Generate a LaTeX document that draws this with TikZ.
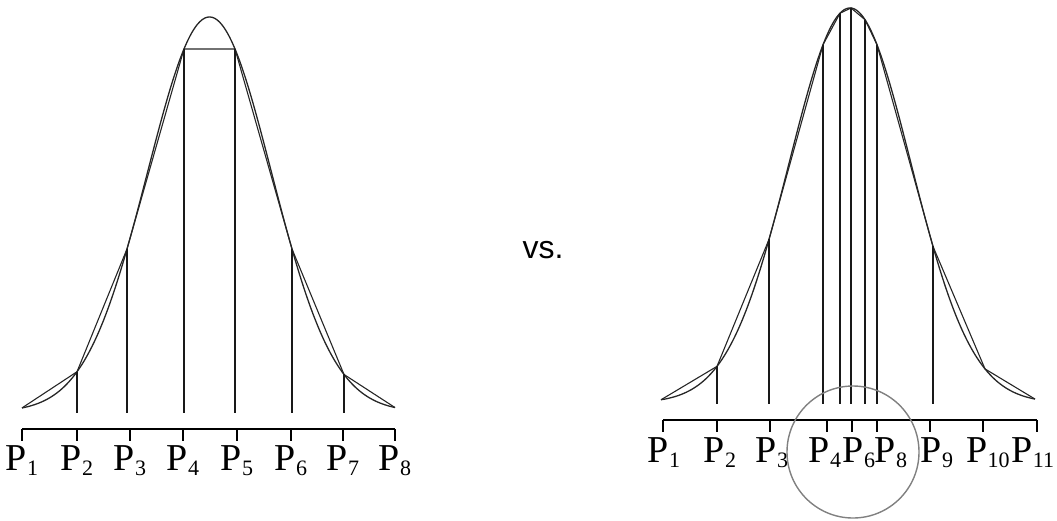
\documentclass[tikz,border=0pt]{standalone}
\usepackage{fontspec}
\setmainfont{Liberation Serif}
\newfontfamily\vsfont{Liberation Sans}
\usetikzlibrary{positioning, calc}

\newcommand{\pl}[1]{P\raisebox{-5pt}{\fontsize{22}{22}\selectfont #1}}

\begin{document}
\begin{tikzpicture}[
    x=1pt,
    y=-1pt,
    declare function={
        bellL(\t)=412-395*exp(-0.5*((\t-209.5)/62)*((\t-209.5)/62));
        bellR(\t)=403-395*exp(-0.5*((\t-850)/61)*((\t-850)/61));
    },
    curve/.style={
        line width=1.3pt,
        black!85,
    },
    chord/.style={
        line width=1.1pt,
        black!85,
    },
    stem/.style={
        line width=1.2pt,
        black!90,
    },
    axis/.style={
        line width=1.8pt,
    },
    axtick/.style={
        line width=2.2pt,
    },
    plab/.style={
        anchor=base,
        inner sep=0pt,
        font=\fontsize{38}{38}\selectfont,
    },
    zoomring/.style={
        draw=gray,
        line width=1.4pt,
        circle,
        minimum size=132pt,
        inner sep=0pt,
    },
]

    \useasboundingbox (0,0) rectangle (1057,520);

    % left: equal spacing
    \draw[curve] plot[domain=22:395, samples=150, smooth] (\x, {bellL(\x)});
    \foreach \n/\px in {1/22,2/77,3/127,4/184,5/235,6/292,7/344,8/395}
        \coordinate (l\n) at (\px, {bellL(\px)});
    \coordinate (lfoot) at (0,413);
    \draw[chord] (l1) -- (l2) -- (l3) -- (l4) -- (l5) -- (l6) -- (l7) -- (l8);
    \foreach \n in {2,...,7}
        \draw[stem] (l\n) -- (l\n |- lfoot);

    \foreach \n/\px in {1/22,2/77,3/130,4/183,5/237,6/291,7/343,8/395} {
        \coordinate (lt\n) at (\px,429);
        \draw[axtick] (lt\n) -- ++(0,12);
        \node[plab] (lp\n) at (\px,470) {\pl{\n}};
    }
    \draw[axis] (lt1) -- (lt8);

    \node[font=\vsfont\fontsize{32}{32}\selectfont, anchor=base] (vs) at (543,258) {vs.};

    % right: points packed near the peak
    \draw[curve] plot[domain=661:1035, samples=150, smooth] (\x, {bellR(\x)});
    \foreach \n/\px in {1/661,2/717,3/769,4/823,5/840,6/851,7/865,8/877,9/933,10/985,11/1035}
        \coordinate (r\n) at (\px, {bellR(\px)});
    \coordinate (rfoot) at (0,404);
    \draw[chord] (r1) -- (r2) -- (r3) -- (r4) -- (r5) -- (r6) -- (r7) -- (r8) -- (r9) -- (r10) -- (r11);
    \foreach \n in {2,...,9}
        \draw[stem] (r\n) -- (r\n |- rfoot);

    \foreach \n/\px/\lx in {1/663/664,2/717/720,3/770/772,4/827/825,6/852/859,8/877/891,9/930/937,10/983/988,11/1037/1033} {
        \coordinate (rt\n) at (\px,420);
        \draw[axtick] (rt\n) -- ++(0,12);
        \node[plab] (rp\n) at (\lx,462) {\pl{\n}};
    }
    \draw[axis] (rt1) -- (rt11);

    \node[zoomring] (ring) at (853,452) {};

\end{tikzpicture}
\end{document}
